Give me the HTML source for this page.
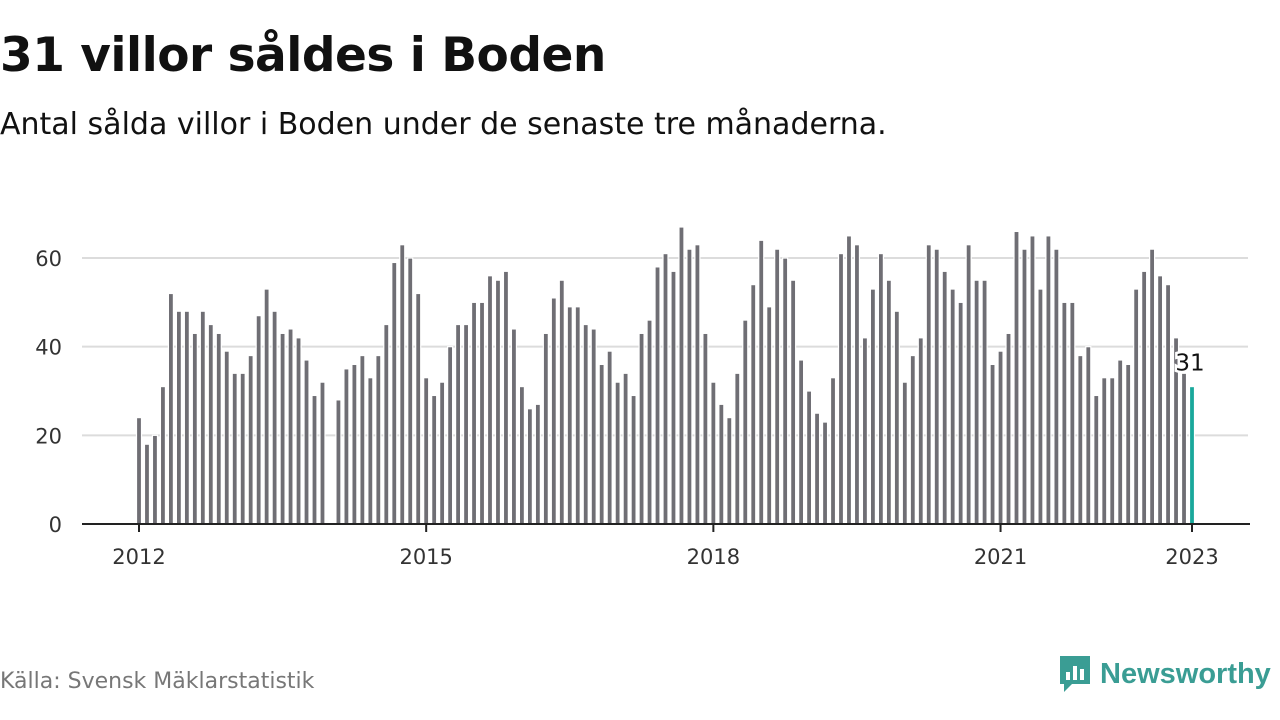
<!DOCTYPE html>
<html><head><meta charset="utf-8"><style>
body{margin:0;width:1280px;height:720px;background:#fff;font-family:"DejaVu Sans","Liberation Sans",sans-serif;overflow:hidden;position:relative}
#title{position:absolute;left:0;top:28px;font-size:47px;font-weight:bold;color:#111;margin:0;letter-spacing:-0.5px}
#sub{position:absolute;left:0;top:107px;font-size:30px;color:#111}
#src{position:absolute;left:0;top:669px;font-size:22px;color:#777}
#logo{position:absolute;left:1058px;top:654px;display:flex;align-items:center}
#logo span{font-family:"Liberation Sans",sans-serif;font-size:29px;font-weight:bold;color:#3a9d94;margin-left:8px}
</style></head><body>
<h1 id="title">31 villor såldes i Boden</h1>
<div id="sub">Antal sålda villor i Boden under de senaste tre månaderna.</div>
<svg id="chart" width="1280" height="720" style="position:absolute;left:0;top:0"></svg>
<div id="src">Källa: Svensk Mäklarstatistik</div>
<div id="logo">
<svg width="34" height="40" viewBox="0 0 34 40"><path d="M2 2h30v28H14l-8 8v-8H2z" fill="#3a9d94"/><rect x="8" y="18" width="4" height="8" fill="#fff"/><rect x="15" y="12" width="4" height="14" fill="#fff"/><rect x="22" y="15" width="4" height="11" fill="#fff"/></svg>
<span>Newsworthy</span></div>
<script>
const startYear = 2012;
const values = [
24,18,20,31,52,48,48,43,48,45,43,39,
34,34,38,47,53,48,43,44,42,37,29,32,
null,28,35,36,38,33,38,45,59,63,60,52,
33,29,32,40,45,45,50,50,56,55,57,44,
31,26,27,43,51,55,49,49,45,44,36,39,
32,34,29,43,46,58,61,57,67,62,63,43,
32,27,24,34,46,54,64,49,62,60,55,37,
30,25,23,33,61,65,63,42,53,61,55,48,
32,38,42,63,62,57,53,50,63,55,55,36,
39,43,66,62,65,53,65,62,50,50,38,40,
29,33,33,37,36,53,57,62,56,54,42,34,
31];
const yTicks = [0,20,40,60];
const xTickYears = [2012,2015,2018,2021,2023];
const svg = document.getElementById('chart');
const NS = 'http://www.w3.org/2000/svg';
const FONT = 'DejaVu Sans, Liberation Sans, sans-serif';
const x0 = 139, x1 = 1192, y0 = 524, yPer = 4.433;
const xs = i => x0 + i * (x1 - x0) / 132;
const ys = v => y0 - v * yPer;
function mk(tag, attrs){const e=document.createElementNS(NS,tag);for(const k in attrs)e.setAttribute(k,attrs[k]);svg.appendChild(e);return e;}
yTicks.forEach(t=>{
  if(t>0){const g=mk('line',{x1:82,x2:1248,y1:ys(t),y2:ys(t),stroke:'#dcdcdc','stroke-width':2});
  
  }
  const l=mk('text',{x:62,y:ys(t)+8,'text-anchor':'end','font-size':21,fill:'#333','font-family':FONT});
  l.textContent=t;
  
  
});
values.forEach((v,i)=>{
  if(v===null)return;
  const last=i===values.length-1;
  const b=mk('rect',{x:xs(i)-2.5,y:ys(v),width:5,height:y0-ys(v),fill:last?'#19a89b':'#6f6e74',stroke:'#fff','stroke-width':1.2});
  
  
});
const ax=mk('line',{x1:82,x2:1250,y1:y0,y2:y0,stroke:'#222','stroke-width':2});


xTickYears.forEach(yr=>{
  const x=xs((yr-startYear)*12);
  const t=mk('line',{x1:x,x2:x,y1:y0,y2:y0+8,stroke:'#222','stroke-width':2});
  
  
  const l=mk('text',{x:x,y:564,'text-anchor':'middle','font-size':21,fill:'#333','font-family':FONT});
  l.textContent=yr;
  
  
});
const li=values.length-1, lv=values[li];
const lb=mk('text',{x:xs(li)-2,y:ys(lv)-16,'text-anchor':'middle','font-size':23,fill:'#111',stroke:'#fff','stroke-width':5,'paint-order':'stroke','font-family':FONT});
lb.textContent=lv;


</script>
</body></html>
